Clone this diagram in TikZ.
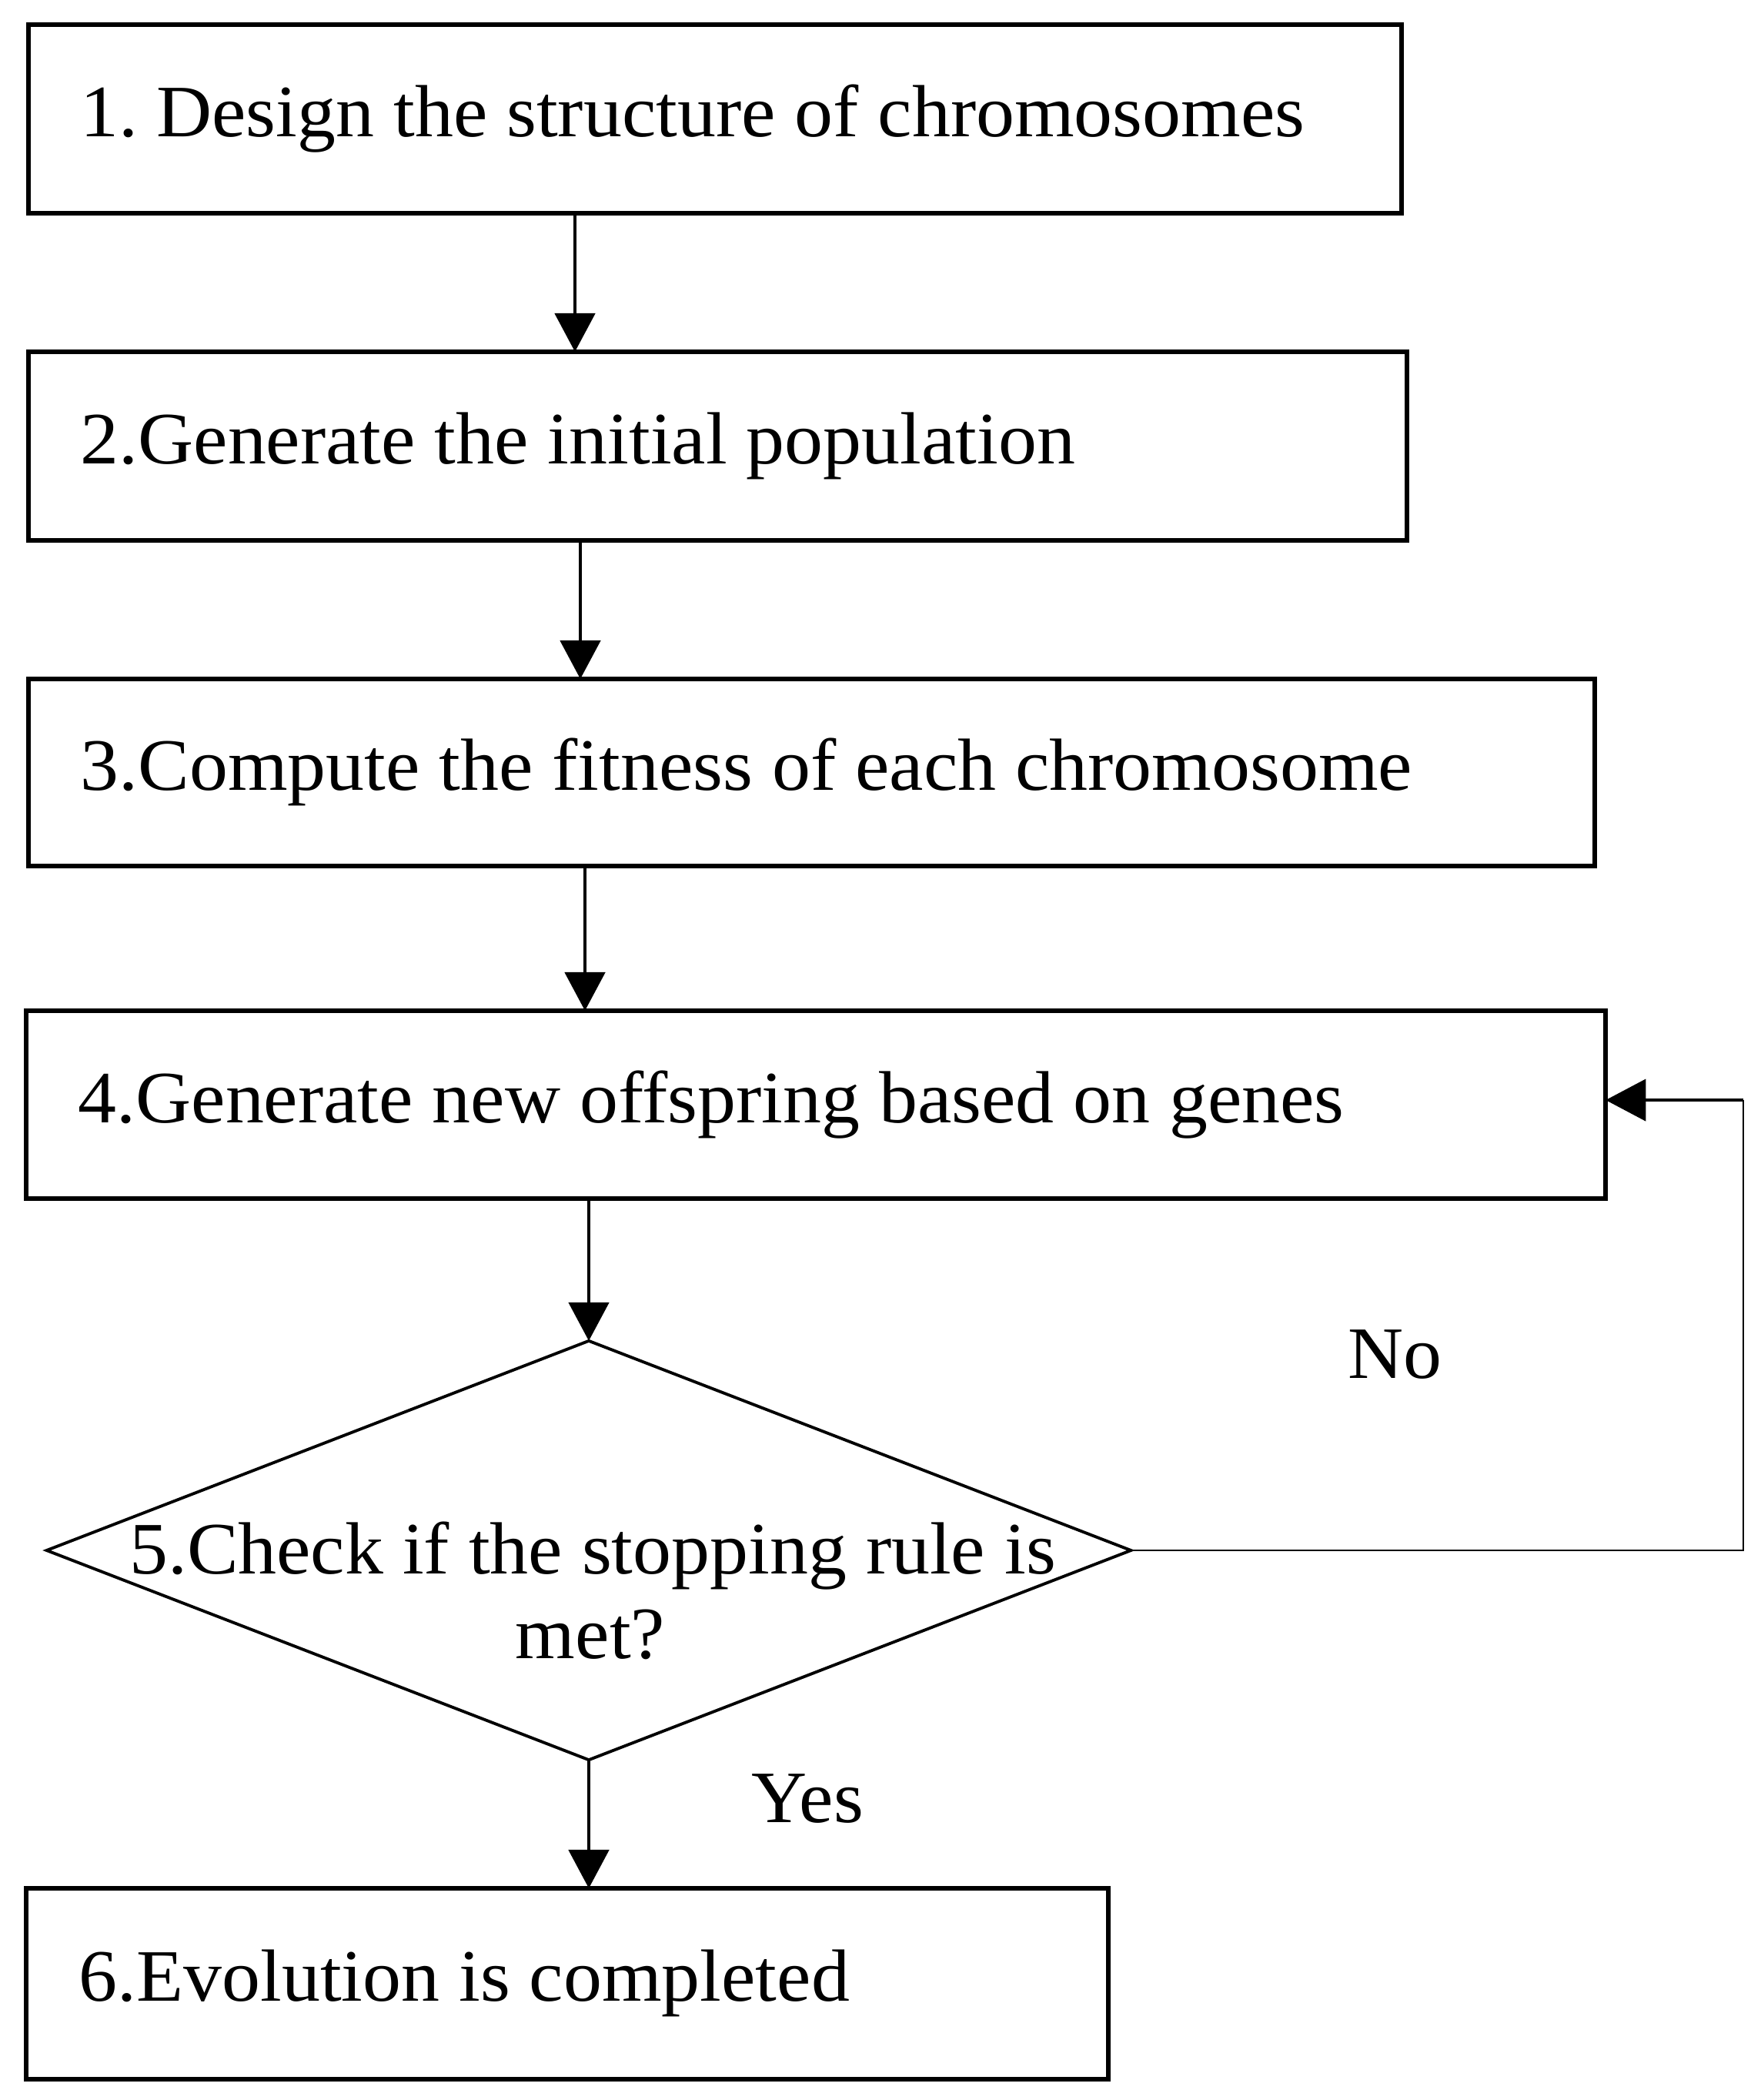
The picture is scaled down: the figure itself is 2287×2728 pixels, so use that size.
\documentclass[tikz,border=0pt]{standalone}
\usepackage{fontspec}
\setmainfont{Liberation Serif}[FakeStretch=1.04]
\usetikzlibrary{arrows.meta,shapes.geometric}
\begin{document}
\begin{tikzpicture}[x=0.01cm,y=-0.01cm,
  box/.style={draw, line width=1.7pt, rectangle, inner sep=0pt, outer sep=0pt, anchor=north west},
  lbl/.style={anchor=base west, inner sep=0pt, font=\fontsize{27.3pt}{32pt}\selectfont},
  clbl/.style={anchor=base, inner sep=0pt, font=\fontsize{27.3pt}{32pt}\selectfont},
  arr/.style={line width=1.4pt, -{Triangle[length=0.5cm,width=0.52cm]}},
  thinline/.style={line width=0.8pt}]
\useasboundingbox (0,0) rectangle (2287,2728);
% boxes
\node[box, minimum width=17.83cm, minimum height=2.45cm] (b1) at (37,32) {};
\node[box, minimum width=17.90cm, minimum height=2.45cm] (b2) at (37,457) {};
\node[box, minimum width=20.34cm, minimum height=2.43cm] (b3) at (37,882) {};
\node[box, minimum width=20.51cm, minimum height=2.44cm] (b4) at (34,1313) {};
\node[draw, diamond, line width=1.1pt, inner sep=0pt, outer sep=0pt,
      minimum width=14.08cm, minimum height=5.44cm] (dia) at (765,2014) {};
\node[box, minimum width=14.05cm, minimum height=2.48cm] (b6) at (34,2453) {};
% texts
\node[lbl] (t1) at (104,178) {1.\kern0.25em Design the structure of chromosomes};
\node[lbl] (t2) at (104,603) {2.Generate the initial population};
\node[lbl] (t3) at (104,1026) {3.Compute the fitness of each chromosome};
\node[lbl] (t4) at (101,1458) {4.Generate new offspring based on genes};
\node[clbl] (t5a) at (770,2044) {5.Check if the stopping rule is};
\node[clbl] (t5b) at (767,2154) {met?};
\node[lbl] (t6) at (102,2599) {6.Evolution is completed};
\node[lbl] (no) at (1751,1790) {No};
\node[lbl] (yes) at (976,2367) {Yes};
% connectors
\coordinate (x1) at (747,0);
\coordinate (x2) at (754,0);
\coordinate (x3) at (760,0);
\coordinate (lp) at (2265,0);
\coordinate (b4in) at ([yshift=0.06cm]b4.east);
\draw[arr] (b1.south -| x1) -- (b2.north -| x1);
\draw[arr] (b2.south -| x2) -- (b3.north -| x2);
\draw[arr] (b3.south -| x3) -- (b4.north -| x3);
\draw[arr] (b4.south -| dia.north) -- (dia.north);
\draw[arr] (dia.south) -- (b6.north -| dia.south);
\draw[thinline] (dia.east) -- (lp |- dia.east) -- (lp |- b4in);
\draw[line width=1.1pt, -{Triangle[length=0.52cm,width=0.54cm]}] (lp |- b4in) -- (b4in);
\end{tikzpicture}
\end{document}
